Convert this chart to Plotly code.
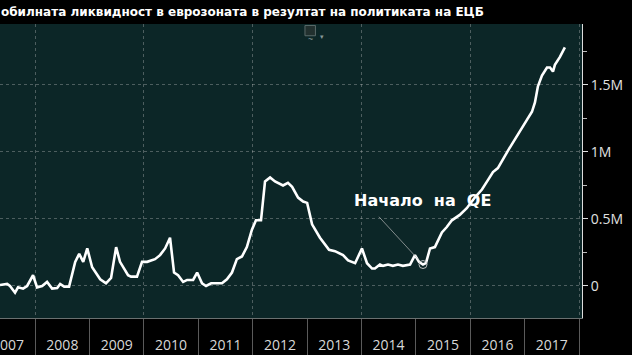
import plotly.graph_objects as go

# ---- data (values in millions of EUR, "M" = million million) ----
dates = [
    "2007-05-10", "2007-06-27", "2007-07-16", "2007-08-19", "2007-09-08", "2007-10-12",
    "2007-11-08", "2007-12-18", "2008-01-14", "2008-02-17", "2008-03-21", "2008-04-24",
    "2008-05-28", "2008-06-17", "2008-07-14", "2008-08-16", "2008-09-26", "2008-10-23",
    "2008-11-19", "2008-12-16", "2009-01-18", "2009-03-13", "2009-04-21", "2009-05-25",
    "2009-06-28", "2009-07-24", "2009-09-16", "2009-10-06", "2009-11-15", "2009-12-19",
    "2010-01-22", "2010-03-16", "2010-04-19", "2010-05-23", "2010-06-25", "2010-07-22",
    "2010-08-18", "2010-09-21", "2010-10-18", "2010-11-27", "2010-12-24", "2011-01-26",
    "2011-02-22", "2011-03-28", "2011-05-07", "2011-06-09", "2011-07-12", "2011-08-15",
    "2011-09-17", "2011-10-21", "2011-11-23", "2011-12-27", "2012-01-23", "2012-02-26",
    "2012-03-24", "2012-04-27", "2012-05-30", "2012-07-23", "2012-08-25", "2012-09-22",
    "2012-11-01", "2012-12-05", "2013-01-01", "2013-02-03", "2013-03-28", "2013-05-28",
    "2013-07-07", "2013-08-10", "2013-08-30", "2013-10-03", "2013-11-19", "2014-01-04",
    "2014-02-07", "2014-03-13", "2014-04-01", "2014-05-05", "2014-05-26", "2014-06-28",
    "2014-07-31", "2014-09-03", "2014-10-06", "2014-11-23", "2014-12-26", "2015-01-22",
    "2015-02-18", "2015-03-10", "2015-04-06", "2015-05-09", "2015-05-29", "2015-06-25",
    "2015-07-28", "2015-08-31", "2015-10-23", "2015-12-09", "2016-02-01", "2016-03-20",
    "2016-04-29", "2016-06-02", "2016-07-05", "2016-08-08", "2016-09-11", "2016-10-14",
    "2016-11-30", "2017-01-16", "2017-02-19", "2017-03-11", "2017-03-31", "2017-04-27",
    "2017-05-31", "2017-06-20", "2017-07-10", "2017-07-23", "2017-08-26", "2017-09-28",
]
liquidity = [
    0.007, 0.015, 0.0, -0.05, -0.01, -0.02,
    0.0, 0.08, -0.01, 0.0, 0.03, -0.02,
    -0.015, 0.015, -0.005, -0.005, 0.18, 0.24,
    0.18, 0.28, 0.14, 0.05, 0.02, 0.06,
    0.29, 0.18, 0.08, 0.07, 0.07, 0.18,
    0.18, 0.20, 0.23, 0.28, 0.36, 0.10,
    0.08, 0.03, 0.045, 0.045, 0.10, 0.02,
    0.0, 0.02, 0.02, 0.02, 0.05, 0.10,
    0.20, 0.22, 0.29, 0.42, 0.49, 0.49,
    0.78, 0.81, 0.78, 0.75, 0.77, 0.74,
    0.66, 0.63, 0.62, 0.46, 0.36, 0.27,
    0.26, 0.24, 0.23, 0.19, 0.17, 0.28,
    0.17, 0.13, 0.13, 0.16, 0.15, 0.16,
    0.15, 0.16, 0.15, 0.16, 0.23, 0.18,
    0.16, 0.17, 0.28, 0.29, 0.34, 0.40,
    0.44, 0.49, 0.53, 0.58, 0.66, 0.72,
    0.79, 0.85, 0.88, 0.95, 1.01, 1.07,
    1.15, 1.24, 1.30, 1.37, 1.49, 1.57,
    1.63, 1.63, 1.60, 1.65, 1.71, 1.78,
]
year_labels = ["2007", "2008", "2009", "2010", "2011", "2012",
               "2013", "2014", "2015", "2016", "2017"]
y_tickvals = [0, 0.5, 1, 1.5]
y_ticktext = ["0", "0.5M", "1M", "1.5M"]
qe_date = "2015-02-18"
qe_value = 0.16
qe_label = "Начало  на  QE"
title_text = "обилната ликвидност в еврозоната в резултат на политиката на ЕЦБ"

BG_PLOT = "#0c2627"
GRID = "rgba(200,200,200,0.35)"

year_mid = [y + "-07-02" for y in year_labels]

fig = go.Figure()
fig.add_trace(go.Scatter(
    x=dates, y=liquidity, mode="lines",
    line=dict(color="white", width=2.6), hoverinfo="skip", showlegend=False,
))
fig.add_trace(go.Scatter(
    x=[qe_date], y=[qe_value], mode="markers",
    marker=dict(symbol="circle-open", size=8, color="rgba(210,210,210,0.9)", line=dict(width=1)),
    hoverinfo="skip", showlegend=False,
))

fig.update_layout(
    width=632, height=355,
    margin=dict(l=0, r=50, t=24, b=37, autoexpand=False),
    paper_bgcolor="black", plot_bgcolor=BG_PLOT,
    showlegend=False,
    xaxis=dict(
        type="date", range=["2007-05-10", "2018-01-21"],
        tickvals=year_mid, ticktext=year_labels,
        ticks="", showgrid=False, ticklabelstandoff=14, automargin=False,
        ticklabeloverflow="allow",
        tickfont=dict(family="Open Sans", size=14, color="#d8d8d8"),
        showline=True, linecolor="#6a7070", linewidth=1,
        zeroline=False,
    ),
    xaxis2=dict(
        type="date", overlaying="x", matches="x", automargin=False,
        dtick="M12", tick0="2007-01-01", showgrid=False, showticklabels=False,
        ticks="outside", ticklen=40, tickcolor="#5a5a5a", tickwidth=1,
        zeroline=False, side="bottom",
    ),
    xaxis3=dict(
        type="date", overlaying="x", matches="x", automargin=False,
        dtick="M24", tick0="2008-01-01", showgrid=True, gridcolor=GRID, griddash="dot",
        gridwidth=1, showticklabels=False, ticks="", zeroline=False,
    ),
    yaxis=dict(
        side="right", range=[-0.239, 1.955], automargin=False,
        tickvals=y_tickvals, ticktext=y_ticktext,
        ticks="outside", ticklen=5, tickcolor="#dddddd", tickwidth=1,
        minor=dict(ticks="outside", ticklen=4, dtick=0.25, tick0=0, tickcolor="#bbbbbb", showgrid=False),
        showgrid=True, gridcolor=GRID, griddash="dot", gridwidth=1,
        showline=True, linecolor="#dddddd", linewidth=1,
        zeroline=False,
        tickfont=dict(family="Open Sans", size=14, color="#e0e0e0"),
    ),
)
# dummy traces so overlay axes render
fig.add_trace(go.Scatter(x=[dates[0]], y=[None], xaxis="x2", showlegend=False, hoverinfo="skip"))
fig.add_trace(go.Scatter(x=[dates[0]], y=[None], xaxis="x3", showlegend=False, hoverinfo="skip"))

# QE annotation: text and thin leader line
fig.add_annotation(
    x=qe_date, y=qe_value, xref="x", yref="y",
    text=" ", showarrow=True, arrowhead=0, arrowwidth=0.8, arrowcolor="rgba(200,200,200,0.8)",
    ax=-47, ay=-51, standoff=4,
)
fig.add_annotation(
    x=qe_date, y=qe_value, xref="x", yref="y",
    text="<b>" + qe_label + "</b>", showarrow=False,
    xshift=0, yshift=64,
    font=dict(family="DejaVu Sans", size=16, color="white"),
)

# Title
fig.add_annotation(
    xref="paper", yref="paper", x=0, y=1, xanchor="left", yanchor="bottom",
    xshift=-1, yshift=3,
    text="<b>" + title_text + "</b>", showarrow=False,
    font=dict(family="DejaVu Sans", size=12, color="white"),
)

# small chart-type icon
fig.add_shape(type="rect", xref="paper", yref="paper",
              x0=0.524, x1=0.542, y0=0.96, y1=0.995,
              fillcolor="#22302f", line=dict(color="#5a6a6a", width=1))
fig.add_annotation(xref="paper", yref="paper", x=0.533, y=0.978, text="~", showarrow=False,
                   font=dict(size=9, color="#8a9a9a"))
fig.add_annotation(xref="paper", yref="paper", x=0.553, y=0.98, text="▾", showarrow=False,
                   font=dict(size=7, color="#889999"))

fig.write_html("out.html")
